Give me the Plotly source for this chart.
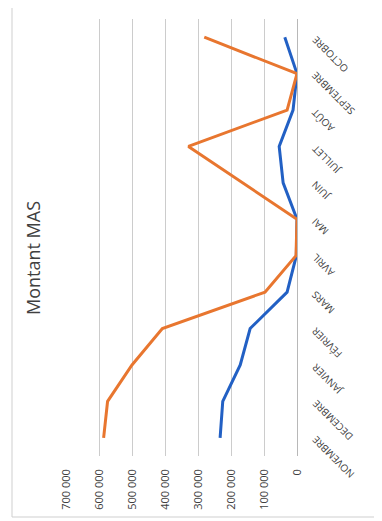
import plotly.graph_objects as go

OFF = 8  # page body margin
W, H = 382 - OFF, 521 - OFF

months = ["NOVEMBRE", "DECEMBRE", "JANVIER", "FÉVRIER", "MARS", "AVRIL",
          "MAI", "JUIN", "JUILLET", "AOÛT", "SEPTEMBRE", "OCTOBRE"]
serie_orange = [586000, 574000, 500000, 408000, 97000, 3000,
                0, 163000, 329000, 30000, 0, 281000]
serie_bleue = [233000, 225000, 172000, 142000, 30000, 2000,
               0, 42000, 54000, 12000, 0, 37000]
value_ticks = [0, 100000, 200000, 300000, 400000, 500000, 600000, 700000]
title_text = "Montant MAS"

def px_x(p):
    return (p - OFF) / W

def px_y(p):
    return 1 - (p - OFF) / H

FONT = "Open Sans"
TXT = "#404040"

fig = go.Figure()
fig.add_trace(go.Scatter(x=serie_bleue, y=months, mode="lines",
                         line=dict(color="#2260C4", width=3), name="Série 1"))
fig.add_trace(go.Scatter(x=serie_orange, y=months, mode="lines",
                         line=dict(color="#E8762F", width=3), name="Série 2"))

fig.update_layout(
    width=W, height=H,
    margin=dict(l=0, r=0, t=0, b=0, autoexpand=False),
    paper_bgcolor="white", plot_bgcolor="white",
    showlegend=False,
    separators=". ",
    font=dict(family=FONT, color=TXT),
    xaxis=dict(
        domain=[px_x(66), px_x(297)],
        range=[700000, 0],
        tickvals=value_ticks,
        tickformat=",d",
        tickangle=-90,
        showgrid=True, gridcolor="#cccccc", gridwidth=1,
        zeroline=False, showline=False,
        ticks="", ticklabelstandoff=10,
        tickfont=dict(size=11, color=TXT, family=FONT),
        automargin=False,
        anchor="y",
    ),
    yaxis=dict(
        domain=[px_y(456), px_y(19)],
        type="category",
        categoryorder="array", categoryarray=months,
        range=[-0.5, 11.5],
        side="right",
        showticklabels=False,
        showgrid=False, zeroline=False,
        showline=True, linecolor="#b8b8b8", linewidth=1,
        ticks="",
        automargin=False,
        anchor="x",
    ),
)

for m in months:
    fig.add_annotation(x=px_x(306), xref="paper", y=m, yref="y",
                       xanchor="left", yanchor="top", yshift=7,
                       text=m, showarrow=False, textangle=-135,
                       font=dict(size=10, color=TXT, family=FONT))

fig.add_annotation(x=px_x(33), y=px_y(258), xref="paper", yref="paper",
                   xanchor="center", yanchor="middle",
                   text=title_text, showarrow=False, textangle=-90,
                   font=dict(size=18, color=TXT, family=FONT))

# outer chart frame
for x0, y0, x1, y1 in [(12, 4, 12, 517), (12, 517, 400, 517)]:
    fig.add_shape(type="line", xref="paper", yref="paper",
                  x0=px_x(x0), y0=px_y(y0), x1=px_x(x1), y1=px_y(y1),
                  line=dict(color="#cfcfcf", width=1))

fig.write_html("out.html")
